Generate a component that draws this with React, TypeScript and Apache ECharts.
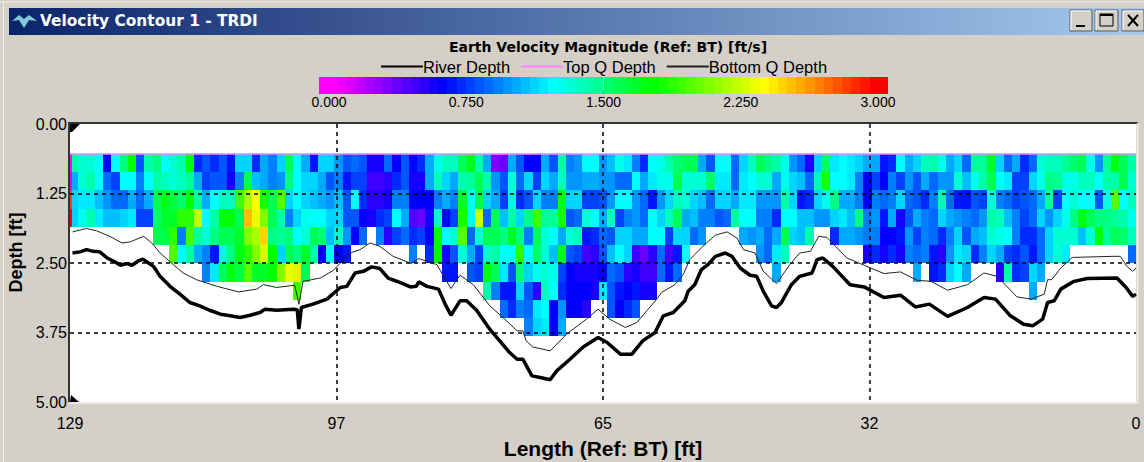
import React, { useEffect, useRef } from "react";
import * as echarts from "echarts";

const gap = (n: number): (number | null)[] => Array(n).fill(null);

// Shared chart facts
const LENGTH_FT = 129;
const MAX_DEPTH_FT = 5;
const FIRST_BIN_DEPTH = 0.54;
const BIN_SIZE = 0.328;
const TOP_Q_DEPTH = 0.54;
const legendTicks = [0, 0.75, 1.5, 2.25, 3];

// Velocity magnitude (ft/s), one list per depth bin, one value per foot of length, left to right (129 -> 0 ft)
const bin0 = [1.4,1.3,1.3,1.2,.6,1.2,1.5,1.8,.8,1.4,1.5,1.2,1.3,1.4,1.8,.7,.8,.7,.8,.65,1.1,1.1,.7,1.0,.9,1.1,1.6,1.2,1.0,.65,1.1,1.1,.95,.8,.85,.8,.55,.55,.85,.6,.8,.6,.7,1.0,1.25,1.35,1.35,1.6,1.75,1.4,1.0,.3,.35,1.0,.8,.6,.6,1.0,.8,1.4,.9,.95,1.2,1.2,.95,1.05,1.25,1.15,.9,.7,1.2,1.25,1.4,1.55,1.6,1.6,1.0,.8,1.2,1.2,.85,1.1,1.35,1.6,1.5,1.4,1.25,.95,.85,.55,1.1,1.55,1.15,1.2,1.15,1.1,1.0,1.0,.65,.7,1.2,1.0,1.1,1.35,1.4,1.25,1.0,1.1,.85,1.45,1.45,1.7,1.1,.85,1.0,.7,.85,1.3,1.35,1.35,1.45,1.55,1.6,1.25,.95,1.45,1.75,1.6,1.4];
const bin1 = [1.0,1.3,1.4,1.2,.85,.75,1.2,1.2,.9,1.2,1.4,1.35,1.3,1.35,1.45,1.0,.75,.8,.8,.55,.9,1.6,1.05,1.0,.9,.95,1.5,1.2,1.1,1.1,1.0,.8,.9,.65,.75,.75,.45,.45,.5,.7,.8,.55,.55,1.0,1.35,1.1,1.0,1.4,1.45,1.6,1.4,.95,.8,1.3,.85,1.1,.75,1.1,1.0,1.35,.95,.95,1.0,1.0,.95,.95,.85,.85,1.2,1.0,1.15,1.25,1.25,1.6,1.3,1.3,1.3,1.55,1.15,1.15,.85,1.15,1.2,1.3,1.3,1.0,1.25,1.1,1.05,.85,1.4,1.85,1.2,1.2,1.15,.9,.6,.75,.6,.9,.75,.95,.8,1.0,.85,.95,.95,1.3,1.05,1.25,1.4,1.6,1.2,1.15,.75,.75,1.1,1.25,1.5,1.45,1.25,1.25,1.35,1.35,1.2,1.4,1.4,1.6,1.3];
const bin2 = [1.1,1.15,1.15,1.05,.95,.85,.85,1.0,.85,1.0,1.6,1.75,1.65,1.55,1.8,1.4,1.0,1.2,1.35,1.35,1.95,2.2,2.4,1.85,1.6,2.0,1.1,1.2,1.1,1.05,1.0,.95,1.05,.8,1.2,.7,.5,.5,.55,.9,.9,.6,.6,.6,.9,1.0,.9,1.7,1.2,1.65,1.1,1.0,.75,1.3,.7,.8,1.1,.9,.9,1.75,1.1,1.1,.75,.75,.8,.95,1.2,1.2,.95,.85,.65,.95,1.1,1.35,1.3,1.1,1.05,.85,1.1,1.1,1.0,1.15,1.15,.95,.95,.95,1.4,1.1,.65,.7,1.1,1.25,1.5,1.0,1.0,.9,.6,.9,.85,.9,1.1,.85,.8,.7,.9,1.4,.85,.65,.65,.8,.75,1.3,.9,.85,.75,.8,.85,1.0,1.4,.75,1.2,1.3,1.2,1.2,.8,1.25,2.0,1.2,1.35];
const bin3 = [1.1,1.25,1.4,1.15,1.05,1.05,1.1,1.15,.75,.75,1.55,1.7,1.7,1.9,1.9,2.25,1.2,1.4,1.8,1.8,1.6,2.55,2.35,2.1,1.6,1.4,.9,1.1,1.25,1.2,1.2,1.1,1.1,.8,.8,.6,.55,.7,.75,1.2,1.0,.4,.35,.55,1.35,.6,.75,1.85,1.25,2.3,.85,1.6,1.05,1.4,1.1,1.5,1.95,1.45,1.45,1.85,.8,.85,1.3,1.2,1.0,1.35,.75,.9,.95,.85,1.2,1.1,1.35,1.6,1.0,1.05,.9,.9,.8,.85,1.45,1.2,1.2,.9,.9,.7,1.2,1.2,1.05,1.05,.95,.95,1.1,1.15,1.05,1.5,.9,.95,.65,1.0,.55,.8,1.0,.9,.85,1.1,1.0,.95,.9,.85,.95,1.4,1.35,1.05,.9,.75,.85,1.1,.95,1.1,1.25,1.5,1.75,1.6,1.5,1.5,1.45,1.4,1.25];
const bin4 = [...gap(10),1.6,1.65,1.9,.9,1.95,1.4,1.3,1.5,1.6,1.6,1.7,2.1,2.2,2.5,1.5,1.45,1.5,1.2,1.3,1.6,1.5,1.05,1.35,.95,.6,.85,null,.9,.5,.75,.85,.7,.75,.6,1.8,1.2,1.3,2.0,.85,1.3,1.6,1.6,1.5,1.7,1.5,.9,1.6,1.3,1.2,1.0,1.3,1.35,.65,.7,.85,.8,1.1,1.1,1.0,1.0,1.2,1.2,.75,1.1,1.1,.85,.95,...gap(4),1.0,.95,1.0,.85,1.0,1.6,1.1,1.05,1.4,null,null,.7,1.0,1.0,.95,.9,.9,.6,.6,.65,.95,.75,.9,.85,.7,.9,1.1,.8,1.0,1.05,1.3,1.25,1.2,.9,.7,.7,.85,1.1,1.3,1.3,1.3,1.05,1.3,1.8,1.45,1.6,1.55,1.35];
const bin5 = [...gap(12),2.0,1.2,1.4,1.0,.9,.65,1.3,1.5,1.75,1.9,2.1,2.3,1.8,1.1,1.6,1.5,1.7,1.4,.6,1.2,.6,.65,...gap(7),.9,null,.7,1.8,.55,.8,1.3,1.0,.75,1.35,1.4,1.2,1.2,1.9,1.2,1.55,1.3,1.05,1.75,.8,.75,.45,.5,.8,1.05,1.2,1.1,.45,.35,.5,.85,.45,.65,1.2,...gap(8),.95,.85,1.15,1.35,...gap(9),.55,.7,.55,.7,.55,.9,.85,.9,.65,.5,.95,1.15,1.1,.7,.9,1.1,1.0,.75,.7,.8,.65,.85,1.1,1.3,1.15,...gap(7),.85];
const bin6 = [...gap(16),.9,1.15,1.6,1.75,1.65,2.0,1.7,1.7,1.8,2.1,2.35,2.3,1.6,...gap(16),.65,.65,null,.8,.75,1.8,1.6,1.15,.8,1.5,1.1,1.25,1.3,1.25,.75,.6,.55,.55,.55,.6,.85,.8,.5,.55,.45,.45,.85,.65,.85,...gap(11),1.0,...gap(16),1.0,null,.65,.7,1.1,1.2,1.0,null,null,null,.5,1.4,.7,.75,1.1,1.0,...gap(11)];
const bin7 = [...gap(27),1.95,...gap(22),1.4,.9,.65,.65,1.1,.8,.5,1.35,1.2,.7,.6,.6,.6,.55,1.15,.8,.65,.6,.65,.55,.55,...gap(45),1.0,...gap(12)];
const bin8 = [...gap(52),.85,.7,.9,.85,1.15,1.2,.6,.95,.6,.6,.5,null,null,.8,.6,.7,.8,...gap(60)];
const bin9 = [...gap(55),.9,1.1,1.15,.6,1.0,...gap(69)];
const bins = [bin0, bin1, bin2, bin3, bin4, bin5, bin6, bin7, bin8, bin9];
const leadingStrip = [0, 0.1, 2.85, 3];

// Depth lines: [length ft, depth ft]
const riverDepth = [[128.7,2.32],[127.8,2.30],[127,2.26],[126.2,2.29],[125.4,2.30],[124.5,2.41],[123.7,2.47],[122.9,2.54],[122.1,2.51],[121.5,2.54],[120.7,2.46],[120.2,2.43],[119.5,2.50],[118.9,2.56],[118.1,2.74],[116.9,2.92],[115.7,3.06],[114.5,3.21],[113.3,3.27],[112.1,3.35],[110.8,3.42],[109.6,3.45],[108.4,3.48],[107.2,3.44],[106,3.39],[105.4,3.33],[104,3.35],[102,3.33],[101.5,3.34],[101.3,3.69],[101,3.30],[99.6,3.24],[97.9,3.15],[96.3,2.94],[95.5,2.92],[94.5,2.68],[93.5,2.65],[92.5,2.57],[91.5,2.60],[90.5,2.77],[89.1,2.85],[87.8,2.93],[87.1,2.92],[86.8,2.84],[85.8,2.92],[84.4,2.97],[83.6,3.24],[82.9,3.44],[81.8,3.18],[81,3.18],[79.8,3.35],[78.2,3.69],[77,3.90],[75.8,4.11],[74.9,4.23],[74.2,4.23],[73.1,4.53],[72.1,4.56],[70.9,4.60],[70.1,4.44],[68.5,4.23],[66.9,4.01],[65.1,3.84],[64,3.93],[62.4,4.14],[61,4.14],[59.7,3.90],[58.2,3.75],[57.2,3.45],[56,3.39],[54.6,3.18],[54.2,3.01],[53.4,2.89],[52.6,2.62],[51.8,2.53],[50.9,2.38],[49.7,2.32],[48.9,2.38],[47.9,2.59],[46.7,2.72],[45.9,2.74],[45.1,3.01],[44.1,3.27],[43.5,3.30],[42.9,3.21],[41.7,2.89],[40.7,2.74],[39.2,2.68],[38.6,2.44],[37.9,2.41],[36.7,2.56],[34.6,2.89],[32.9,2.93],[30.5,3.12],[28.5,3.08],[26.7,3.29],[25,3.24],[22.8,3.46],[20.4,3.30],[18.4,3.12],[17,3.15],[15.2,3.45],[13.6,3.60],[12.5,3.63],[11.3,3.51],[10.7,3.21],[9.9,3.18],[9.1,2.97],[7.5,2.83],[5.9,2.78],[2.3,2.77],[1.2,2.94],[0.4,3.10],[0,3.06]];
const bottomQDepth = [[128.7,1.94],[127,1.88],[125.8,1.92],[124.2,2.02],[122.7,2.14],[121.7,2.12],[120.1,2.02],[119.1,2.14],[118.1,2.32],[116.5,2.53],[115.3,2.68],[113.7,2.80],[111.2,2.92],[108.6,3.02],[106.4,2.97],[105.6,2.89],[104,2.94],[101.8,2.90],[101.3,3.24],[100.8,2.83],[98.7,2.77],[97.1,2.63],[96.3,2.50],[95.1,2.32],[93.9,2.26],[92.7,2.14],[91.5,2.20],[89.9,2.38],[87.7,2.51],[86.8,2.42],[84.6,2.53],[82.9,2.96],[81.8,2.72],[80.2,2.89],[78.2,3.27],[76.6,3.48],[74.9,3.72],[74.2,3.72],[73.8,3.90],[73,4.01],[70.9,4.08],[68.9,3.78],[66.5,3.51],[65.1,3.33],[63.7,3.51],[61.8,3.66],[60.4,3.57],[59.2,3.36],[58,3.15],[57.4,3.03],[55.8,2.89],[54.8,2.71],[54,2.44],[52.2,2.17],[50.9,2.00],[49.5,1.94],[48.3,2.05],[47.5,2.26],[46.1,2.32],[45.1,2.65],[43.5,2.87],[41.9,2.53],[40.7,2.32],[39.4,2.29],[38.4,2.02],[37.4,2.04],[35,2.41],[32.9,2.54],[30.5,2.69],[28.5,2.66],[26.5,2.81],[24.8,2.83],[22.8,2.99],[20.4,2.89],[18.4,2.68],[16.8,2.74],[14.4,3.11],[12.7,3.15],[11.1,3.06],[10.7,2.80],[10.2,2.80],[9.1,2.59],[7.7,2.40],[2.7,2.38],[1.9,2.38],[1.1,2.56],[0.4,2.65],[0,2.59]];
const topQDepth = [[LENGTH_FT, TOP_Q_DEPTH],[0, TOP_Q_DEPTH]];

const colorStops: [number, number, number][] = [
  [255, 0, 255], [0, 0, 255], [0, 255, 255], [0, 255, 0], [255, 255, 0], [255, 0, 0],
];
function velocityColor(v: number) {
  const stepped = Math.round(Math.max(0, Math.min(3, v)) / 0.05) * 0.05;
  const t = stepped / 0.6;
  const i = Math.min(4, Math.floor(t));
  const f = t - i;
  const a = colorStops[i], b = colorStops[i + 1];
  const c = a.map((x, k) => Math.round(x + (b[k] - x) * f));
  return `rgb(${c[0]},${c[1]},${c[2]})`;
}

function buildCells() {
  const cells: number[][] = [];
  bins.forEach((row, r) => {
    for (let i = 0; i < LENGTH_FT; i++) {
      const v = row[i];
      if (v === null || v === undefined) continue;
      cells.push([LENGTH_FT - i, LENGTH_FT - i - 1, FIRST_BIN_DEPTH + r * BIN_SIZE, FIRST_BIN_DEPTH + (r + 1) * BIN_SIZE, v]);
    }
  });
  leadingStrip.forEach((v, r) => {
    cells.push([LENGTH_FT, LENGTH_FT - 0.3, FIRST_BIN_DEPTH + r * BIN_SIZE, FIRST_BIN_DEPTH + (r + 1) * BIN_SIZE, v]);
  });
  return cells;
}

function buildRamp() {
  const out: number[][] = [];
  const n = 62;
  const w = 3.11 / n;
  for (let i = 0; i < n; i++) {
    const x0 = -0.055 + i * w;
    out.push([x0, x0 + w, 0, 1, x0 + w / 2]);
  }
  return out;
}

const renderCell = (_: any, api: any) => {
  const p0 = api.coord([api.value(0), api.value(2)]);
  const p1 = api.coord([api.value(1), api.value(3)]);
  const x0 = Math.round(Math.min(p0[0], p1[0]));
  const x1 = Math.round(Math.max(p0[0], p1[0]));
  const y0 = Math.round(Math.min(p0[1], p1[1]));
  const y1 = Math.round(Math.max(p0[1], p1[1]));
  return {
    type: "rect",
    shape: { x: x0, y: y0, width: Math.max(1, x1 - x0), height: y1 - y0 },
    style: { fill: velocityColor(api.value(4)) },
  };
};

const FONT = "'Liberation Sans', Arial, sans-serif";
const FACE = "#d4d0c8";

function button(x: number, w: number) {
  return [
    { type: "rect", silent: true, shape: { x, y: 10, width: w, height: 21 }, style: { fill: FACE, stroke: "#5a5a5a", lineWidth: 1 }, z: 3 },
    { type: "line", silent: true, shape: { x1: x + 1, y1: 11, x2: x + w - 1, y2: 11 }, style: { stroke: "#ffffff", lineWidth: 1 }, z: 4 },
    { type: "line", silent: true, shape: { x1: x + 1, y1: 11, x2: x + 1, y2: 30 }, style: { stroke: "#ffffff", lineWidth: 1 }, z: 4 },
  ];
}

export default function App() {
  const ref = useRef<HTMLDivElement>(null);
  useEffect(() => {
    const chart = echarts.init(ref.current!, undefined, { renderer: "svg" });
    const line = (x1: number, y1: number, x2: number, y2: number, stroke: string, lineWidth: number, z = 20) => ({
      type: "line", silent: true, z, shape: { x1, y1, x2, y2 }, style: { stroke, lineWidth },
    });
    chart.setOption({
      animation: false,
      backgroundColor: FACE,
      title: {
        text: "Earth Velocity Magnitude (Ref: BT) [ft/s]",
        left: 603, top: 35, textAlign: "center",
        textStyle: { fontFamily: "'DejaVu Sans', sans-serif", fontSize: 14, fontWeight: "bold", color: "#000" },
      },
      legend: {
        data: ["River Depth", "Top Q Depth", "Bottom Q Depth"],
        left: 375, top: 53, itemWidth: 42, itemHeight: 14, itemGap: 10,
        itemStyle: { opacity: 0 },
        textStyle: { fontFamily: FONT, fontSize: 16.5, color: "#000", padding: [0, 0, 0, -5] },
      },
      grid: [
        { left: 70, top: 124, width: 1066, height: 278, show: true, backgroundColor: "#fff", borderWidth: 0, outerBoundsMode: "none" },
        { left: 319, top: 77, width: 569, height: 17, show: false, outerBoundsMode: "none" },
      ],
      xAxis: [
        {
          type: "value", gridIndex: 0, min: 0, max: LENGTH_FT, interval: LENGTH_FT / 4, inverse: true, position: "bottom", z: 5,
          axisLine: { show: false }, axisTick: { show: false },
          axisLabel: { fontFamily: FONT, fontSize: 16, color: "#000", margin: 13, showMinLabel: true, showMaxLabel: true, formatter: (v: number) => String(Math.round(v)) },
          splitLine: { show: true, showMinLine: false, showMaxLine: false, lineStyle: { color: "#000", type: [4, 4], width: 1.5 } },
          name: "Length (Ref: BT) [ft]", nameLocation: "middle", nameGap: 36,
          nameTextStyle: { fontFamily: FONT, fontSize: 21, fontWeight: "bold", color: "#000" },
        },
        {
          type: "value", gridIndex: 1, min: -0.055, max: 3.055, position: "bottom",
          axisLine: { show: false },
          axisTick: { show: true, inside: true, length: 4, customValues: legendTicks, lineStyle: { color: "#888" } },
          axisLabel: { fontFamily: FONT, fontSize: 14, color: "#000", margin: 1, customValues: legendTicks, formatter: (v: number) => v.toFixed(3) },
          splitLine: { show: false },
        },
      ],
      yAxis: [
        {
          type: "value", gridIndex: 0, min: 0, max: MAX_DEPTH_FT, interval: 1.25, inverse: true, position: "left", z: 5,
          axisLine: { show: false }, axisTick: { show: false },
          axisLabel: { fontFamily: FONT, fontSize: 16, color: "#000", margin: 3, showMinLabel: true, showMaxLabel: true, formatter: (v: number) => v.toFixed(2) },
          splitLine: { show: true, showMinLine: false, showMaxLine: false, lineStyle: { color: "#000", type: [4, 4], width: 1.5 } },
          name: "Depth [ft]", nameLocation: "middle", nameGap: 37,
          nameTextStyle: { fontFamily: FONT, fontSize: 18, fontWeight: "bold", color: "#000", padding: [0, 0, 0, 21] },
        },
        { type: "value", gridIndex: 1, min: 0, max: 1, show: false },
      ],
      series: [
        {
          type: "custom", name: "velocity", xAxisIndex: 0, yAxisIndex: 0, z: 1, silent: true, clip: true,
          encode: { x: [0, 1], y: [2, 3] }, data: buildCells(), renderItem: renderCell,
        },
        {
          type: "custom", name: "ramp", xAxisIndex: 1, yAxisIndex: 1, z: 1, silent: true,
          encode: { x: [0, 1], y: [2, 3] }, data: buildRamp(), renderItem: renderCell,
        },
        {
          type: "line", name: "River Depth", xAxisIndex: 0, yAxisIndex: 0, z: 6, data: riverDepth, symbol: "none", silent: true,
          lineStyle: { color: "#000", width: 3.5 }, itemStyle: { color: "#000" },
        },
        {
          type: "line", name: "Top Q Depth", xAxisIndex: 0, yAxisIndex: 0, z: 6, data: topQDepth, symbol: "none", silent: true,
          lineStyle: { color: "#ff80ff", width: 1.5 }, itemStyle: { color: "#ff80ff" },
        },
        {
          type: "line", name: "Bottom Q Depth", xAxisIndex: 0, yAxisIndex: 0, z: 6, data: bottomQDepth, symbol: "none", silent: true,
          lineStyle: { color: "#222", width: 1 }, itemStyle: { color: "#222" },
        },
      ],
      graphic: {
        elements: [
          line(0, 2, 1144, 2, "#f2f0ea", 1, 1),
          line(3.5, 2, 3.5, 462, "#f2f0ea", 1, 1),
          {
            type: "rect", silent: true, z: 2, shape: { x: 9, y: 8, width: 1135, height: 27 },
            style: { fill: new echarts.graphic.LinearGradient(0, 0, 1, 0, [{ offset: 0, color: "#0a246a" }, { offset: 1, color: "#a6caf0" }]) },
          },
          {
            type: "text", silent: true, z: 3, x: 40, y: 13,
            style: { text: "Velocity Contour 1 - TRDI", fill: "#fff", font: "bold 15.4px 'DejaVu Sans', sans-serif" },
          },
          { type: "polygon", silent: true, z: 3, shape: { points: [[12, 21], [19, 15], [24, 19], [29, 15], [37, 21], [29, 20], [24, 28], [19, 20]] }, style: { fill: "#7fcbd6" } },
          ...button(1070, 22), ...button(1095, 23), ...button(1122, 22),
          { type: "rect", silent: true, z: 5, shape: { x: 1076, y: 25, width: 9, height: 2 }, style: { fill: "#000" } },
          { type: "rect", silent: true, z: 5, shape: { x: 1100, y: 14, width: 13, height: 12 }, style: { fill: "none", stroke: "#000", lineWidth: 1 } },
          line(1100, 15, 1113, 15, "#000", 2, 5),
          line(1128, 15, 1138, 26, "#000", 2, 5),
          line(1138, 15, 1128, 26, "#000", 2, 5),
          line(68, 123, 1138, 123, "#333", 2),
          line(69, 122, 69, 403, "#333", 2),
          line(68, 403, 1138, 403, "#f4f2ee", 1.5),
          line(1137.5, 123, 1137.5, 403, "#f4f2ee", 1.5),
          { type: "polygon", silent: true, z: 21, shape: { points: [[70, 124], [80, 124], [72, 132], [70, 132]] }, style: { fill: "#000" } },
          { type: "polygon", silent: true, z: 21, shape: { points: [[70, 402], [79, 402], [71, 395]] }, style: { fill: "#000" } },
        ],
      },
    });
    return () => chart.dispose();
  }, []);
  return <div ref={ref} style={{ position: "fixed", left: 0, top: 0, width: 1144, height: 462 }} />;
}
